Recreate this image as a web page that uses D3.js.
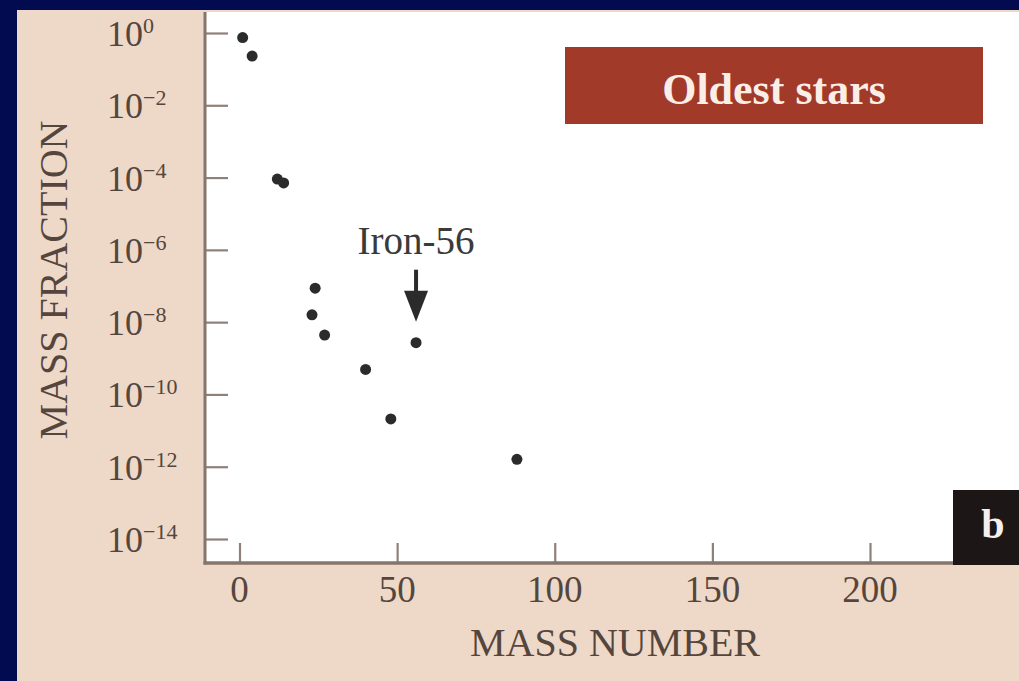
<!DOCTYPE html>
<html>
<head>
<meta charset="utf-8">
<script src="https://cdn.jsdelivr.net/npm/d3@7"></script>
<style>
  html, body { margin: 0; padding: 0; background: #eed8c8; }
  svg { display: block; }
  text { font-family: "Liberation Serif", "DejaVu Serif", serif; }
</style>
</head>
<body>
<svg id="chart" width="1019" height="681"></svg>
<script>
// ---- data ----
const massNumbers   = [1, 4, 12, 14, 23, 24, 27, 40, 48, 56, 88];
const massFractions = [0.75, 0.23, 9.1e-5, 7.1e-5, 1.6e-8, 8.7e-8, 4.4e-9, 4.9e-10, 2.1e-11, 2.7e-9, 1.6e-12];
const xTicks = [0, 50, 100, 150, 200];
const yTickExponents = [0, -2, -4, -6, -8, -10, -12, -14];
const xTitle = "MASS NUMBER";
const yTitle = "MASS FRACTION";
const panelTitle = "Oldest stars";
const panelLetter = "b";
const annotation = { label: "Iron-56", mass: 56, fraction: 2.7e-9 };

// ---- layout ----
const W = 1019, H = 681;
const plot = { left: 205, top: 12, right: 1019, bottom: 563 };
const ink = "#55463d";
const axisColor = "#85756a";

const svg = d3.select("#chart");

// backgrounds
svg.append("rect").attr("x", 0).attr("y", 0).attr("width", W).attr("height", H).attr("fill", "#eed8c8");
svg.append("rect").attr("x", 0).attr("y", 0).attr("width", W).attr("height", 10).attr("fill", "#020b4f");
svg.append("rect").attr("x", 0).attr("y", 0).attr("width", 17).attr("height", H).attr("fill", "#020b4f");
svg.append("rect").attr("x", plot.left).attr("y", plot.top)
   .attr("width", plot.right - plot.left).attr("height", plot.bottom - plot.top).attr("fill", "#ffffff");

// scales
const x = d3.scaleLinear().domain([0, 200]).range([239.5, 870]);
const y = d3.scaleLog().domain([1e-14, 1]).range([539, 33]);

// y axis ticks (inside)
const yAxis = d3.axisLeft(y)
  .tickValues(yTickExponents.map(e => Math.pow(10, e)))
  .tickSizeInner(-23).tickSizeOuter(0).tickFormat("");
const gy = svg.append("g").attr("transform", `translate(${plot.left},0)`).call(yAxis);
gy.select(".domain").remove();
gy.selectAll(".tick line").attr("stroke", "#8f8078").attr("stroke-width", 2.2);

// x axis ticks (inside)
const xAxis = d3.axisBottom(x).tickValues(xTicks).tickSizeInner(-20).tickSizeOuter(0).tickFormat("");
const gx = svg.append("g").attr("transform", `translate(0,${plot.bottom})`).call(xAxis);
gx.select(".domain").remove();
gx.selectAll(".tick line").attr("stroke", "#8f8078").attr("stroke-width", 2.2);

// axis frame lines
svg.append("line").attr("x1", plot.left).attr("x2", plot.left).attr("y1", plot.top).attr("y2", plot.bottom + 1.5)
   .attr("stroke", axisColor).attr("stroke-width", 3);
svg.append("line").attr("x1", plot.left - 1.5).attr("x2", 953).attr("y1", plot.bottom).attr("y2", plot.bottom)
   .attr("stroke", axisColor).attr("stroke-width", 3.5);

// y tick labels 10^e
const yl = svg.append("g");
yTickExponents.forEach(e => {
  const t = yl.append("text").attr("x", 107).attr("y", y(Math.pow(10, e)) + 13)
    .attr("fill", ink).attr("font-size", 36);
  t.append("tspan").text("10");
  t.append("tspan").attr("dy", -13).attr("font-size", 22)
    .text(e === 0 ? "0" : "\u2212" + Math.abs(e));
});

// x tick labels
svg.append("g").selectAll("text").data(xTicks).join("text")
  .attr("x", d => x(d)).attr("y", 602)
  .attr("text-anchor", "middle").attr("fill", ink).attr("font-size", 37)
  .text(d => d);

// axis titles
svg.append("text").attr("x", 615).attr("y", 656).attr("text-anchor", "middle")
  .attr("fill", ink).attr("font-size", 40).text(xTitle);
svg.append("text").attr("transform", "translate(67,280) rotate(-90)").attr("text-anchor", "middle")
  .attr("fill", ink).attr("font-size", 40).text(yTitle);

// points
svg.append("g").selectAll("circle").data(massNumbers.map((m, i) => ({ m, f: massFractions[i] })))
  .join("circle")
  .attr("cx", d => x(d.m)).attr("cy", d => y(d.f)).attr("r", 5.5)
  .attr("fill", "#2b2b2b");

// annotation arrow + label
const ax = x(annotation.mass), ay = y(annotation.fraction);
svg.append("line").attr("x1", ax).attr("x2", ax).attr("y1", ay - 73).attr("y2", ay - 40)
  .attr("stroke", "#2b2b2b").attr("stroke-width", 4);
svg.append("path")
  .attr("d", `M${ax - 12},${ay - 52} L${ax + 12},${ay - 52} L${ax},${ay - 21} Z`)
  .attr("fill", "#2b2b2b");
svg.append("text").attr("x", ax).attr("y", ay - 89).attr("text-anchor", "middle")
  .attr("fill", "#3a3a3a").attr("font-size", 39).text(annotation.label);

// panel title box
svg.append("rect").attr("x", 565).attr("y", 47).attr("width", 418).attr("height", 77).attr("fill", "#a23a2a");
svg.append("text").attr("x", 774).attr("y", 104).attr("text-anchor", "middle")
  .attr("fill", "#fbeee6").attr("font-size", 44).attr("font-weight", "bold").text(panelTitle);

// panel letter box
svg.append("rect").attr("x", 953).attr("y", 490).attr("width", 66).attr("height", 75).attr("fill", "#1c1616");
svg.append("text").attr("x", 993).attr("y", 538).attr("text-anchor", "middle")
  .attr("fill", "#f4f0f0").attr("font-size", 42).attr("font-weight", "bold").text(panelLetter);
</script>
</body>
</html>
